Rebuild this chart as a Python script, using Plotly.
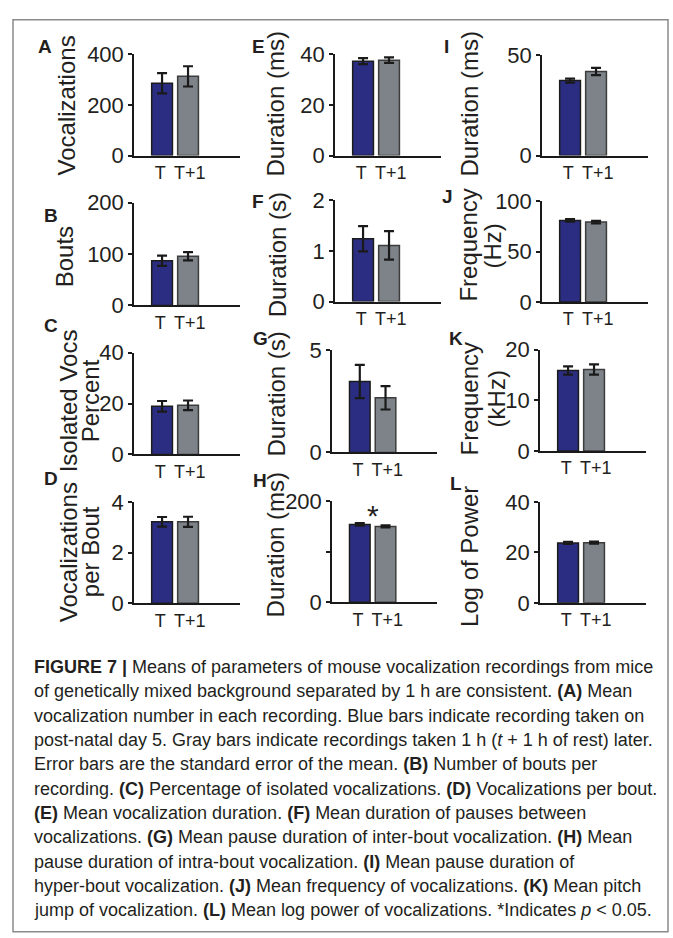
import plotly.graph_objects as go

# ---------------- data ----------------
categories = ["T", "T+1"]

vocalizations = [286, 313]
vocalizations_err = [40, 40]
bouts = [87, 96]
bouts_err = [10, 8]
isolated_pct = [18.9, 19.3]
isolated_pct_err = [2.1, 1.9]
vocs_per_bout = [3.22, 3.22]
vocs_per_bout_err = [0.19, 0.20]

voc_duration = [37.3, 37.7]
voc_duration_err = [1.2, 1.1]
pause_duration = [1.24, 1.11]
pause_duration_err = [0.25, 0.28]
inter_bout_pause = [3.47, 2.67]
inter_bout_pause_err = [0.81, 0.57]
intra_bout_pause = [154, 150]
intra_bout_pause_err = [2.5, 2.0]

hyper_bout_pause = [37.2, 41.7]
hyper_bout_pause_err = [1.0, 1.8]
frequency = [81.0, 79.4]
frequency_err = [1.3, 1.2]
pitch_jump = [15.9, 16.1]
pitch_jump_err = [0.83, 1.0]
log_power = [23.8, 23.9]
log_power_err = [0.4, 0.4]

tick_A = [0, 200, 400]
tick_B = [0, 100, 200]
tick_C = [0, 20, 40]
tick_D = [0, 2, 4]
tick_E = [0, 20, 40]
tick_F = [0, 1, 2]
tick_G = [0, 5]
tick_H = [0, 100, 200]
tick_H_text = ["0", "", "200"]
tick_I = [0, 50]
tick_J = [0, 50, 100]
tick_K = [0, 10, 20]
tick_L = [0, 20, 40]

caption_lines = [
    "<b>FIGURE 7 |</b> Means of parameters of mouse vocalization recordings from mice",
    "of genetically mixed background separated by 1 h are consistent. <b>(A)</b> Mean",
    "vocalization number in each recording. Blue bars indicate recording taken on",
    "post-natal day 5. Gray bars indicate recordings taken 1 h (<i>t</i> + 1 h of rest) later.",
    "Error bars are the standard error of the mean. <b>(B)</b> Number of bouts per",
    "recording. <b>(C)</b> Percentage of isolated vocalizations. <b>(D)</b> Vocalizations per bout.",
    "<b>(E)</b> Mean vocalization duration. <b>(F)</b> Mean duration of pauses between",
    "vocalizations. <b>(G)</b> Mean pause duration of inter-bout vocalization. <b>(H)</b> Mean",
    "pause duration of intra-bout vocalization. <b>(I)</b> Mean pause duration of",
    "hyper-bout vocalization. <b>(J)</b> Mean frequency of vocalizations. <b>(K)</b> Mean pitch",
    "jump of vocalization. <b>(L)</b> Mean log power of vocalizations. *Indicates <i>p</i> &lt; 0.05.",
]

# ---------------- layout constants ----------------
W, H = 673, 938
BLUE = "#2a2d82"
GRAY = "#7d8388"
TXT = "#231f20"
FONT = "Liberation Sans, Arial, sans-serif"
THIN = "\u2009"


def px(x):
    return x / W


def py(y):
    return 1 - y / H


# panel: letter, values, errors, ticks, ticktext, axis box (left, right, top, bottom px),
# letter pos, title lines [(text, x, y)]
panels = [
    ("A", vocalizations, vocalizations_err, tick_A, None, (134, 240, 43.5, 147.5), (45, 35),
     [("Vocalizations", 66, 96)]),
    ("B", bouts, bouts_err, tick_B, None, (134, 240, 196, 301.5), (51, 209),
     [("Bouts", 64, 252)]),
    ("C", isolated_pct, isolated_pct_err, tick_C, None, (134, 240, 350, 454.5), (51, 322),
     [("Isolated Vocs", 68, 400), ("Percent", 90, 400)]),
    ("D", vocs_per_bout, vocs_per_bout_err, tick_D, None, (134, 240, 503.5, 607.5), (51, 479),
     [("Vocalizations", 68, 555), ("per Bout", 90, 555)]),
    ("E", voc_duration, voc_duration_err, tick_E, None, (335, 441, 43.5, 147.5), (258, 35),
     [("Duration (ms)", 275, 95)]),
    ("F", pause_duration, pause_duration_err, tick_F, None, (335, 441, 193.5, 297.5), (258, 195),
     [("Duration (s)", 277, 250)]),
    ("G", inter_bout_pause, inter_bout_pause_err, tick_G, None, (332, 437, 347.5, 452.5), (260, 335),
     [("Duration (s)", 277, 393)]),
    ("H", intra_bout_pause, intra_bout_pause_err, tick_H, tick_H_text, (332, 437, 502.5, 606.5), (260, 481),
     [("Duration (ms)", 275, 548)]),
    ("I", hyper_bout_pause, hyper_bout_pause_err, tick_I, None, (542, 648, 44, 147.5), (446, 35),
     [("Duration (ms)", 469, 95)]),
    ("J", frequency, frequency_err, tick_J, None, (542, 648, 194.5, 298), (447, 190),
     [("Frequency", 469, 240), ("(Hz)", 493, 240)]),
    ("K", pitch_jump, pitch_jump_err, tick_K, None, (540, 646, 347, 451), (456, 335),
     [("Frequency", 469, 398), ("(kHz)", 496, 398)]),
    ("L", log_power, log_power_err, tick_L, None, (540, 646, 503.5, 607), (456, 484),
     [("Log of Power", 469, 560)]),
]

# x tick texts, nudged slightly apart as in the original typesetting
x_ticktext = [categories[0] + THIN, THIN + categories[1]]

fig = go.Figure()
annotations = []
layout_axes = {}

for i, (letter, vals, errs, ticks, ticktext, box, lpos, titles) in enumerate(panels, start=1):
    xa = "x" if i == 1 else f"x{i}"
    ya = "y" if i == 1 else f"y{i}"
    xkey = "xaxis" if i == 1 else f"xaxis{i}"
    ykey = "yaxis" if i == 1 else f"yaxis{i}"
    left, right, top, bottom = box

    fig.add_trace(go.Bar(
        x=categories, y=vals, xaxis=xa, yaxis=ya, width=0.8,
        marker=dict(color=[BLUE, GRAY], line=dict(color=["#1c1c1c", "#3c3c3c"], width=1.5)),
        error_y=dict(type="data", array=errs, visible=True, color="#1a1a1a", thickness=2.2, width=5),
        showlegend=False, hoverinfo="skip",
    ))

    layout_axes[xkey] = dict(
        domain=[px(left), px(right)], anchor=ya, type="category",
        range=[-1.08, 3.0], showline=True, linecolor="#1a1a1a", linewidth=1.5,
        ticks="", showgrid=False, zeroline=False, tickangle=0,
        tickvals=categories, ticktext=x_ticktext,
        tickfont=dict(family=FONT, size=18, color=TXT), fixedrange=True,
    )
    layout_axes[ykey] = dict(
        domain=[py(bottom), py(top)], anchor=xa, range=[0, ticks[-1]],
        showline=True, linecolor="#1a1a1a", linewidth=1.5,
        ticks="outside", ticklen=4, tickwidth=1.5, tickcolor="#1a1a1a",
        tickvals=ticks, ticktext=ticktext if ticktext else [str(t) for t in ticks],
        showgrid=False, zeroline=False,
        tickfont=dict(family=FONT, size=22, color=TXT), fixedrange=True,
    )

    annotations.append(dict(
        text=f"<b>{letter}</b>", x=px(lpos[0]), y=py(lpos[1]), xref="paper", yref="paper",
        showarrow=False, xanchor="center", yanchor="middle",
        font=dict(family=FONT, size=19, color=TXT),
    ))
    for (t, tx, ty) in titles:
        annotations.append(dict(
            text=t, x=px(tx), y=py(ty), xref="paper", yref="paper", textangle=-90,
            showarrow=False, xanchor="center", yanchor="middle",
            font=dict(family=FONT, size=24, color=TXT),
        ))

# significance star on panel H, placed above the tallest error bar
h_top = max(v + e for v, e in zip(intra_bout_pause, intra_bout_pause_err))
annotations.append(dict(
    text="*", x=0.5, y=h_top + 15, xref="x8", yref="y8", showarrow=False,
    xanchor="center", yanchor="middle", font=dict(family=FONT, size=30, color=TXT),
))

# caption
for k, line in enumerate(caption_lines):
    annotations.append(dict(
        text=line, x=px(32), y=py(673 + 25 * k), xref="paper", yref="paper",
        showarrow=False, xanchor="left", yanchor="middle", align="left",
        font=dict(family=FONT, size=18, color=TXT),
    ))

fig.update_layout(
    width=W, height=H, margin=dict(l=0, r=0, t=0, b=0),
    paper_bgcolor="white", plot_bgcolor="white",
    annotations=annotations,
    shapes=[dict(type="rect", xref="paper", yref="paper",
                 x0=px(13), x1=px(668), y0=py(945), y1=py(8),
                 line=dict(color="#8a8a8a", width=1.5), fillcolor="rgba(0,0,0,0)")],
    **layout_axes,
)

fig.write_html("out.html", config={"displayModeBar": False},
               post_script="document.body.style.margin='0';")
